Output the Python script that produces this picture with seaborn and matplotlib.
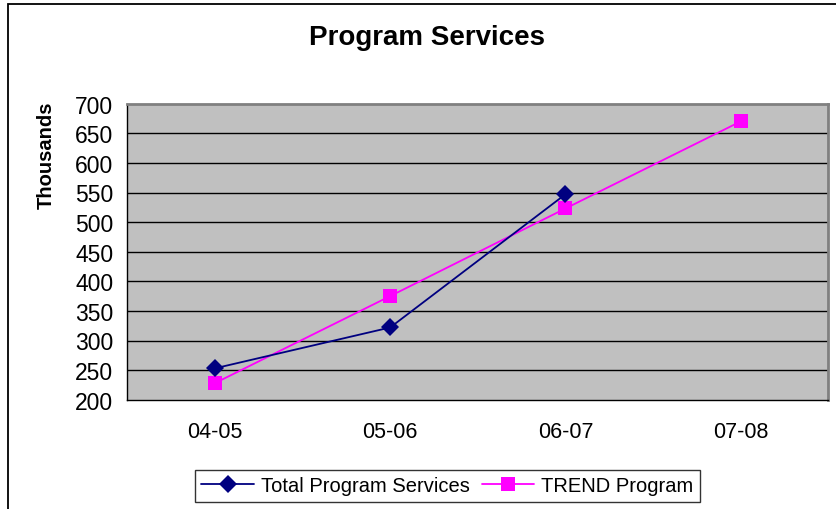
import matplotlib
matplotlib.use("Agg")
import matplotlib.pyplot as plt
import seaborn as sns
import pandas as pd
from matplotlib.patches import Rectangle

categories = ["04-05", "05-06", "06-07", "07-08"]
total_program = [253, 322, 547, None]
trend_program = [228, 375, 523, 670]
yticks = [200, 250, 300, 350, 400, 450, 500, 550, 600, 650, 700]

sns.set_theme(style="white")
plt.rcParams['font.family'] = ['Liberation Sans', 'DejaVu Sans']
plt.rcParams['text.color'] = 'black'
plt.rcParams['axes.labelcolor'] = 'black'
plt.rcParams['xtick.color'] = 'black'
plt.rcParams['ytick.color'] = 'black'

W, H = 837, 510
fig = plt.figure(figsize=(W / 100, H / 100), dpi=100)
fig.patch.set_facecolor("white")

L, R, T, B = 127.3, 828.3, 104.7, 400.7
ax = fig.add_axes([L / W, 1 - B / H, (R - L) / W, (B - T) / H])
ax.set_facecolor("#C0C0C0")

df1 = pd.DataFrame({"cat": categories[:3], "val": total_program[:3]})
df2 = pd.DataFrame({"cat": categories, "val": trend_program})

sns.lineplot(data=df2, x="cat", y="val", ax=ax, color="#FF00FF", lw=1.3,
             marker="s", markersize=10, markeredgewidth=0, label="TREND Program",
             sort=False, zorder=3)
sns.lineplot(data=df1, x="cat", y="val", ax=ax, color="#000080", lw=1.3,
             marker="D", markersize=9.5, markeredgewidth=0, label="Total Program Services",
             sort=False, zorder=4)

ax.set_xlim(-0.5, 3.5)
ax.set_ylim(200, 700)
ax.set_yticks(yticks)
ax.set_yticklabels([str(v) for v in yticks], fontsize=16.5, color="black")
ax.set_xticks(range(len(categories)))
ax.set_xticklabels(categories, fontsize=15.5, color="black")
ax.set_xticks([-0.5, 0.5, 1.5, 2.5, 3.5], minor=True)
ax.tick_params(axis="x", which="major", length=0, pad=15, colors="black")
ax.tick_params(axis="x", which="minor", length=6, width=1, color="black", direction="out")
ax.tick_params(axis="y", length=6, width=1, color="black", direction="out", pad=4)
ax.set_xlabel("")
ax.set_ylabel("")

for y in yticks[1:-1]:
    ax.axhline(y, color="black", lw=1.0, zorder=1)

for side in ["left", "bottom"]:
    ax.spines[side].set_color("black")
    ax.spines[side].set_linewidth(1.0)
for side in ["top", "right"]:
    ax.spines[side].set_color("#808080")
    ax.spines[side].set_linewidth(2.0)
    ax.spines[side].set_visible(True)

fig.text(427.5 / W, 1 - 38 / H, "Program Services", ha="center", va="center",
         fontsize=20, fontweight="bold", color="black")
fig.text(46 / W, 1 - 102 / H, "Thousands", ha="center", va="top",
         rotation=90, fontsize=14.5, fontweight="bold", color="black")

handles, labels = ax.get_legend_handles_labels()
order = [labels.index("Total Program Services"), labels.index("TREND Program")]
leg = ax.legend([handles[i] for i in order], [labels[i] for i in order],
                loc="center", bbox_to_anchor=(447.5 / W, 1 - 487 / H),
                bbox_transform=fig.transFigure, ncol=2, fontsize=14.5,
                frameon=True, fancybox=False, edgecolor="black",
                handlelength=2.6, handletextpad=0.35, columnspacing=0.6,
                borderpad=0.3, borderaxespad=0)
leg.get_frame().set_linewidth(1.0)
for t in leg.get_texts():
    t.set_color("black")

# outer chart frame (cropped at right and bottom)
fig.patches.append(Rectangle((8 / W, -0.1), 1.2, 1 - 5 / H + 0.1,
                             transform=fig.transFigure, fill=False,
                             edgecolor="black", lw=1.3))

fig.savefig("out.png", dpi=100)
